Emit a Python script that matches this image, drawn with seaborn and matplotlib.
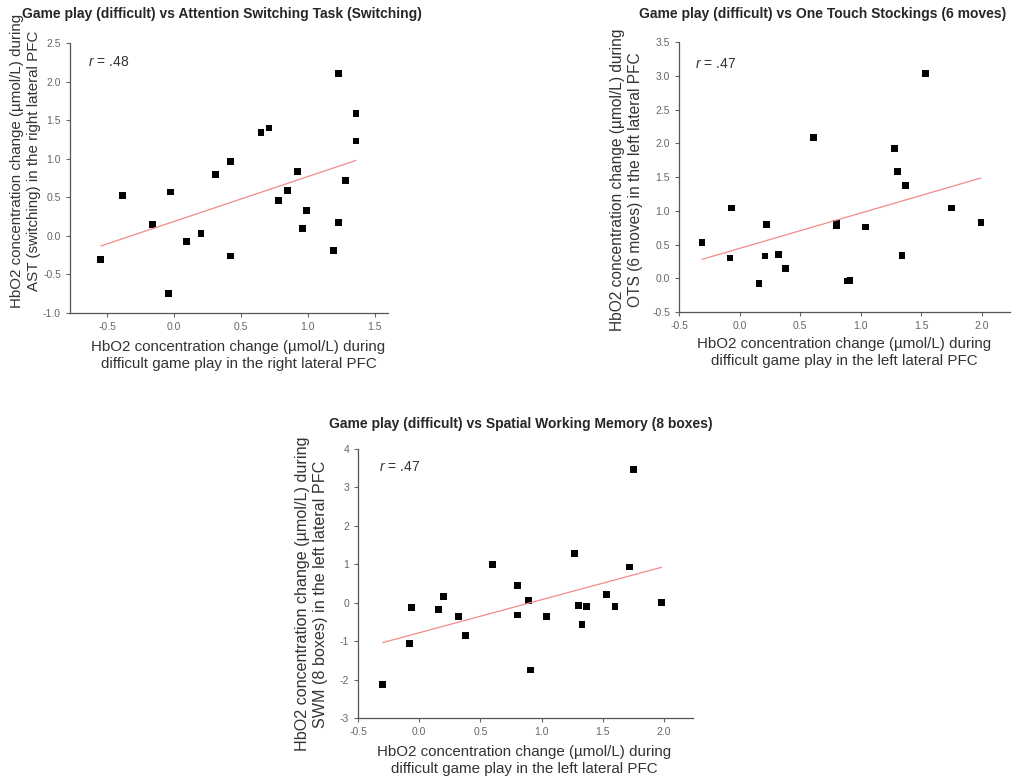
import numpy as np
import pandas as pd
import matplotlib
matplotlib.use("Agg")
import matplotlib.pyplot as plt
import seaborn as sns

# HbO2 change during difficult game play (x) vs during each task (y)
ast_game = [-0.55, -0.39, -0.16, -0.04, -0.03, 0.09, 0.20, 0.31, 0.42, 0.42, 0.65, 0.71,
            0.78, 0.85, 0.92, 0.96, 0.99, 1.19, 1.23, 1.23, 1.28, 1.36, 1.36]
ast_task = [-0.31, 0.52, 0.15, -0.75, 0.57, -0.07, 0.03, 0.80, 0.97, -0.26, 1.34, 1.40,
            0.46, 0.59, 0.84, 0.10, 0.33, -0.19, 2.11, 0.17, 0.72, 1.59, 1.23]

ots_game = [-0.31, -0.08, -0.07, 0.16, 0.21, 0.22, 0.32, 0.38, 0.61, 0.80, 0.80,
            0.89, 0.91, 1.04, 1.28, 1.30, 1.34, 1.37, 1.53, 1.75, 1.99]
ots_task = [0.53, 0.30, 1.04, -0.08, 0.33, 0.80, 0.35, 0.15, 2.09, 0.82, 0.78,
            -0.04, -0.03, 0.76, 1.92, 1.58, 0.34, 1.37, 3.04, 1.04, 0.83]

swm_game = [-0.30, -0.08, -0.06, 0.16, 0.20, 0.32, 0.38, 0.60, 0.80, 0.80, 0.89,
            0.91, 1.04, 1.27, 1.30, 1.33, 1.37, 1.53, 1.60, 1.72, 1.75, 1.98]
swm_task = [-2.12, -1.07, -0.13, -0.17, 0.15, -0.37, -0.85, 0.99, 0.45, -0.32, 0.06,
            -1.75, -0.37, 1.27, -0.08, -0.57, -0.10, 0.22, -0.10, 0.93, 3.47, 0.01]

sns.set_style("ticks")
plt.rcParams['font.family'] = ['Liberation Sans', 'DejaVu Sans']
plt.rcParams['mathtext.fontset'] = 'custom'
plt.rcParams['mathtext.it'] = 'Liberation Sans:italic'
plt.rcParams['mathtext.rm'] = 'Liberation Sans'

fig = plt.figure(figsize=(10.16, 7.8), dpi=100)
ax1 = fig.add_axes([0.0689, 0.5987, 0.313, 0.346])
ax2 = fig.add_axes([0.6683, 0.600, 0.3258, 0.346])
ax3 = fig.add_axes([0.3524, 0.0795, 0.330, 0.345])

panels = [
    (ax1, ast_game, ast_task,
     "HbO2 concentration change (\u00b5mol/L) during\nAST (switching) in the right lateral PFC",
     "HbO2 concentration change (\u00b5mol/L) during\ndifficult game play in the right lateral PFC",
     "$r$ = .48", (-0.78, 1.6), (-1.0, 2.5), np.arange(-1.0, 2.51, 0.5), "%.1f",
     (0.057, 0.93), (-0.091, 0.563), 10.9, (0.53, -0.10)),
    (ax2, ots_game, ots_task,
     "HbO2 concentration change (\u00b5mol/L) during\nOTS (6 moves) in the left lateral PFC",
     "HbO2 concentration change (\u00b5mol/L) during\ndifficult game play in the left lateral PFC",
     "$r$ = .47", (-0.5, 2.23), (-0.5, 3.5), np.arange(-0.5, 3.51, 0.5), "%.1f",
     (0.048, 0.92), (-0.109, 0.49), 11.2, (0.5, -0.093)),
    (ax3, swm_game, swm_task,
     "HbO2 concentration change (\u00b5mol/L) during\nSWM (8 boxes) in the left lateral PFC",
     "HbO2 concentration change (\u00b5mol/L) during\ndifficult game play in the left lateral PFC",
     "$r$ = .47", (-0.5, 2.24), (-3, 4), np.arange(-3, 4.1, 1), "%d",
     (0.063, 0.933), (-0.09, 0.46), 11.6, (0.495, -0.10)),
]

titles = ["Game play (difficult) vs Attention Switching Task (Switching)",
          "Game play (difficult) vs One Touch Stockings (6 moves)",
          "Game play (difficult) vs Spatial Working Memory (8 boxes)"]

for ax, xv, yv, ylab, xlab, rtxt, xlim, ylim, yticks, yfmt, rpos, ylpos, ylsize, xlpos in panels:
    df = pd.DataFrame({"game": xv, "task": yv})
    sns.regplot(data=df, x="game", y="task", ax=ax, ci=None, truncate=True,
                marker="s", scatter_kws={"s": 24, "color": "black", "edgecolor": "none", "alpha": 1},
                line_kws={"color": "#f28b8b", "lw": 0.9})
    ax.set_xlim(*xlim)
    ax.set_ylim(*ylim)
    ax.set_xticks(np.arange(-0.5, xlim[1] + 0.01, 0.5))
    ax.xaxis.set_major_formatter(matplotlib.ticker.FormatStrFormatter("%.1f"))
    ax.set_yticks(yticks)
    ax.yaxis.set_major_formatter(matplotlib.ticker.FormatStrFormatter(yfmt))
    ax.tick_params(labelsize=7.5, labelcolor="#666666", color="#666666", length=3, width=0.8)
    for s in ["left", "bottom"]:
        ax.spines[s].set_color("#555555")
        ax.spines[s].set_linewidth(0.9)
    sns.despine(ax=ax)
    ax.set_ylabel(ylab, fontsize=ylsize, color="#333333", linespacing=1.25)
    ax.set_xlabel(xlab, fontsize=10.9, color="#333333", linespacing=1.25)
    ax.yaxis.set_label_coords(*ylpos)
    ax.xaxis.set_label_coords(*xlpos)
    ax.text(rpos[0], rpos[1], rtxt, transform=ax.transAxes, fontsize=10, color="#333333",
            va="center", ha="left")

fig.text(22 / 1016, 1 - 14 / 780, titles[0], fontsize=10, fontweight="bold",
         ha="left", va="center")
fig.text(823 / 1016, 1 - 14 / 780, titles[1], fontsize=10, fontweight="bold",
         ha="center", va="center")
fig.text(521 / 1016, 1 - 424 / 780, titles[2], fontsize=10, fontweight="bold",
         ha="center", va="center")

fig.savefig("out.png", dpi=100)
